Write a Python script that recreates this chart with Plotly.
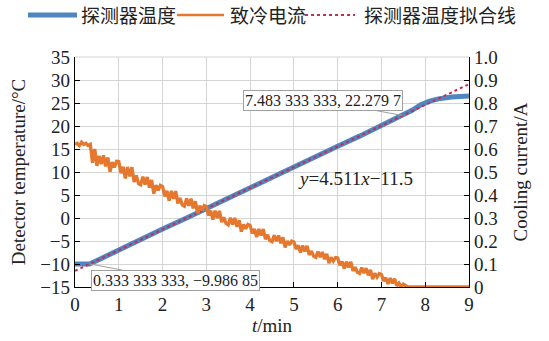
import plotly.graph_objects as go

# Detector temperature (°C) vs time (min)
temp_t = [0.0, 0.1, 0.2, 0.333, 0.6, 1.0, 1.5, 2.0, 2.5, 3.0, 3.5, 4.0, 4.5, 5.0, 5.5, 6.0, 6.5, 7.0,
          7.483, 7.7, 7.9, 8.1, 8.3, 8.6, 9.0]
temp_v = [-10.0, -10.0, -10.0, -9.987, -8.8, -6.9, -4.6, -2.4, -0.2, 2.1, 4.3, 6.6, 8.8, 11.1, 13.3,
          15.6, 17.8, 20.1, 22.28, 23.4, 24.6, 25.4, 25.9, 26.3, 26.5]

# Cooling current (A), sampled every 0.05 min up to 7.60 min, then 0 until 9 min
cur_v = [
    0.62, 0.625, 0.615, 0.63, 0.62, 0.625, 0.615, 0.62, 0.54, 0.60,
    0.527, 0.570, 0.534, 0.572, 0.524, 0.563, 0.501, 0.543, 0.520, 0.547,
    0.546, 0.495, 0.523, 0.472, 0.522, 0.481, 0.521, 0.457, 0.485, 0.449,
    0.444, 0.480, 0.445, 0.478, 0.432, 0.465, 0.406, 0.443, 0.420, 0.442,
    0.437, 0.394, 0.418, 0.375, 0.418, 0.383, 0.417, 0.363, 0.387, 0.357,
    0.351, 0.385, 0.353, 0.384, 0.342, 0.373, 0.320, 0.354, 0.333, 0.354,
    0.350, 0.311, 0.332, 0.293, 0.332, 0.300, 0.331, 0.282, 0.303, 0.276,
    0.270, 0.301, 0.272, 0.300, 0.262, 0.290, 0.241, 0.272, 0.253, 0.272,
    0.268, 0.233, 0.252, 0.217, 0.252, 0.224, 0.252, 0.208, 0.227, 0.202,
    0.197, 0.225, 0.199, 0.224, 0.190, 0.216, 0.172, 0.200, 0.183, 0.200,
    0.196, 0.165, 0.181, 0.150, 0.180, 0.155, 0.179, 0.140, 0.156, 0.134,
    0.129, 0.154, 0.130, 0.152, 0.121, 0.144, 0.104, 0.129, 0.113, 0.128,
    0.126, 0.095, 0.111, 0.080, 0.110, 0.085, 0.109, 0.070, 0.086, 0.064,
    0.059, 0.084, 0.060, 0.082, 0.051, 0.074, 0.034, 0.059, 0.043, 0.058,
    0.054, 0.026, 0.040, 0.013, 0.039, 0.016, 0.036, 0.005, 0.017, 0.002,
    0.012, 0.004, 0.0,
]
cur_t = [round(i * 0.05, 2) for i in range(len(cur_v))] + [9.0]
cur_v = cur_v + [0.0]

# Linear fit y = 4.511x - 11.5
fit_a, fit_b = 4.511, -11.5
fit_t = [0.0, 9.0]
fit_v = [fit_a * t + fit_b for t in fit_t]

series_names = ["探测器温度", "致冷电流", "探测器温度拟合线"]

y_ticks = list(range(-15, 36, 5))
y_ticktext = [("−" + str(-v)) if v < 0 else str(v) for v in y_ticks]
y2_ticks = [round(i * 0.1, 1) for i in range(11)]
y2_ticktext = ["0"] + ["%.1f" % v for v in y2_ticks[1:]]

serif = "Liberation Serif, Times New Roman, Noto Sans CJK SC, serif"
cjk = "Noto Sans CJK SC, Liberation Serif, serif"
blue = "#4f86c0"
orange = "#e4782f"
red = "#cc2a4f"

fig = go.Figure()
fig.add_trace(go.Scatter(x=temp_t, y=temp_v, mode="lines", name=series_names[0],
                         line=dict(color=blue, width=5)))
fig.add_trace(go.Scatter(x=cur_t, y=cur_v, mode="lines", name=series_names[1], yaxis="y2",
                         line=dict(color=orange, width=3.3)))
fig.add_trace(go.Scatter(x=fit_t, y=fit_v, mode="lines", name=series_names[2],
                         line=dict(color=red, width=2, dash="dot")))

grid = "#d4d4d4"
# plot area: x 75..469 px, y 57..287 px
L, R, T, B = 75, 80, 57, 54
PW, PH = 549 - L - R, 341 - T - B


def px(xp):
    return (xp - L) / PW


def py(yp):
    return (341 - B - yp) / PH


ly = py(15)
legend_shapes = [
    dict(type="line", xref="paper", yref="paper", x0=px(28), x1=px(77), y0=ly, y1=ly,
         line=dict(color=blue, width=5)),
    dict(type="line", xref="paper", yref="paper", x0=px(177), x1=px(224), y0=ly, y1=ly,
         line=dict(color=orange, width=2.5)),
    dict(type="line", xref="paper", yref="paper", x0=px(305), x1=px(355), y0=ly, y1=ly,
         line=dict(color=red, width=2, dash="dot")),
]
fig.update_layout(
    width=549, height=341,
    margin=dict(l=L, r=R, t=T, b=B, autoexpand=False),
    paper_bgcolor="white", plot_bgcolor="white",
    font=dict(family=serif, size=19, color="#222"),
    showlegend=False,
    hovermode=False,
    xaxis=dict(range=[0, 9], dtick=1, tick0=0, showgrid=True, gridcolor=grid, gridwidth=1,
               showline=True, linecolor="black", linewidth=1.2, ticks="inside", ticklen=5,
               tickcolor="black", zeroline=False,
               title=dict(text="<i>t</i>/min", font=dict(size=19), standoff=2)),
    yaxis=dict(range=[-15, 35], tickvals=y_ticks, ticktext=y_ticktext, showgrid=True,
               gridcolor=grid, gridwidth=1, showline=True, linecolor="black", linewidth=1.2,
               ticks="inside", ticklen=5, tickcolor="black", zeroline=False,
               title=dict(text="Detector temperature/°C", font=dict(size=19), standoff=9)),
    yaxis2=dict(range=[0, 1.0], tickvals=y2_ticks, ticktext=y2_ticktext, overlaying="y",
                side="right", showgrid=False, showline=True, linecolor="black", linewidth=1.2,
                ticks="inside", ticklen=5, tickcolor="black", zeroline=False,
                title=dict(text="Cooling current/A", font=dict(size=19), standoff=16)),
    shapes=[dict(type="line", xref="paper", yref="paper", x0=0, x1=1, y0=1, y1=1,
                 line=dict(color=grid, width=1))] + legend_shapes,
)

for xpos, name in zip([px(79), px(228), px(362)], series_names):
    fig.add_annotation(x=xpos, y=ly, xref="paper", yref="paper", text=name, showarrow=False,
                       xanchor="left", yanchor="middle", font=dict(size=19, family=cjk))

fig.add_annotation(x=0.333, y=-9.987, ax=2.30, ay=-13.5, axref="x", ayref="y",
                   text="0.333 333 333, −9.986 85", showarrow=True, arrowhead=0,
                   arrowcolor="#a0a0a0", arrowwidth=1, bgcolor="white", bordercolor="#a0a0a0",
                   borderwidth=1, borderpad=1, font=dict(size=16, family=serif))
fig.add_annotation(x=7.483, y=22.28, ax=5.66, ay=25.5, axref="x", ayref="y",
                   text="7.483 333 333, 22.279 7", showarrow=True, arrowhead=0,
                   arrowcolor="#a0a0a0", arrowwidth=1, bgcolor="white", bordercolor="#a0a0a0",
                   borderwidth=1, borderpad=1, font=dict(size=16, family=serif))
fig.add_annotation(x=6.41, y=8.6, text="<i>y</i>=4.511<i>x</i>−11.5", showarrow=False,
                   font=dict(size=19, family=serif))

fig.write_html("out.html", config={"displayModeBar": False, "staticPlot": True},
               post_script="document.body.style.margin='0';document.body.style.padding='0';"
                           "document.documentElement.style.overflow='hidden';")
